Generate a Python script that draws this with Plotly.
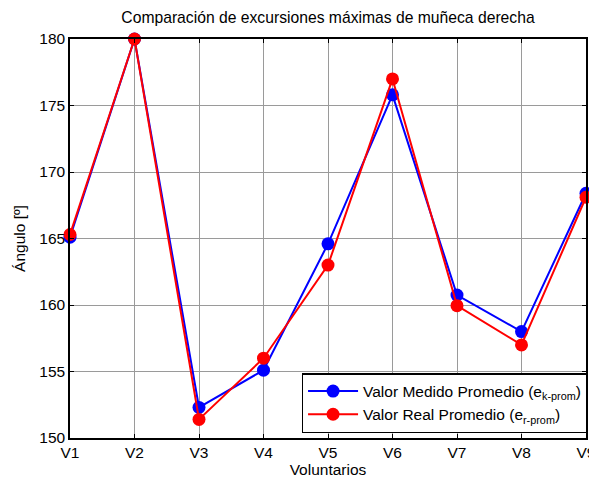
import plotly.graph_objects as go

categories = ["V1", "V2", "V3", "V4", "V5", "V6", "V7", "V8", "V9"]
medido = [165.1, 180.0, 152.3, 155.1, 164.6, 175.8, 160.75, 158.0, 168.4]
real = [165.3, 180.0, 151.4, 156.0, 163.0, 177.0, 159.95, 157.0, 168.1]
y_ticks = [150, 155, 160, 165, 170, 175, 180]

x = list(range(1, len(categories) + 1))

FONT = "Liberation Sans, Arial"
FS = 15.5
# the page body has an 8px margin, so the figure is sized to fill the rest
W, H = 589, 471

fig = go.Figure()
fig.add_trace(go.Scatter(
    x=x, y=medido, mode="lines+markers",
    name="Valor Medido Promedio (e<sub>k-prom</sub>)",
    line=dict(color="#0000ff", width=2),
    marker=dict(color="#0000ff", size=13),
    cliponaxis=False,
))
fig.add_trace(go.Scatter(
    x=x, y=real, mode="lines+markers",
    name="Valor Real Promedio (e<sub>r-prom</sub>)",
    line=dict(color="#ff0000", width=2),
    marker=dict(color="#ff0000", size=13),
    cliponaxis=False,
))

axis_common = dict(
    showline=True, linecolor="black", linewidth=1.5, mirror="ticks",
    ticks="inside", ticklen=4, tickcolor="black",
    showgrid=True, gridcolor="#9a9a9a", gridwidth=1,
    zeroline=False, automargin=False, ticklabeloverflow="allow",
    tickfont=dict(family=FONT, size=FS, color="black"),
)

fig.update_layout(
    width=W, height=H,
    margin=dict(l=62, r=9, t=31, b=41),
    paper_bgcolor="white", plot_bgcolor="white",
    font=dict(family=FONT, size=FS, color="black"),
    title=dict(text="Comparación de excursiones máximas de muñeca derecha",
               xref="paper", x=0.5, xanchor="center",
               yref="container", y=1 - 10 / H, yanchor="middle",
               font=dict(family=FONT, size=15.7, color="black")),
    xaxis=dict(range=[1, 9], tickvals=x, ticktext=categories,
               title=dict(text="Voluntarios", standoff=1,
                          font=dict(family=FONT, size=FS, color="black")),
               **axis_common),
    yaxis=dict(range=[150, 180], tickvals=y_ticks,
               title=dict(text="Ángulo [º]", standoff=10,
                          font=dict(family=FONT, size=FS, color="black")),
               **axis_common),
    legend=dict(x=1.003, y=0.0125, xanchor="right", yanchor="bottom",
                bgcolor="white", bordercolor="black", borderwidth=1.5,
                font=dict(family=FONT, size=FS, color="black"),
                tracegroupgap=0, itemwidth=50),
    showlegend=True,
)

fig.write_html("out.html")
